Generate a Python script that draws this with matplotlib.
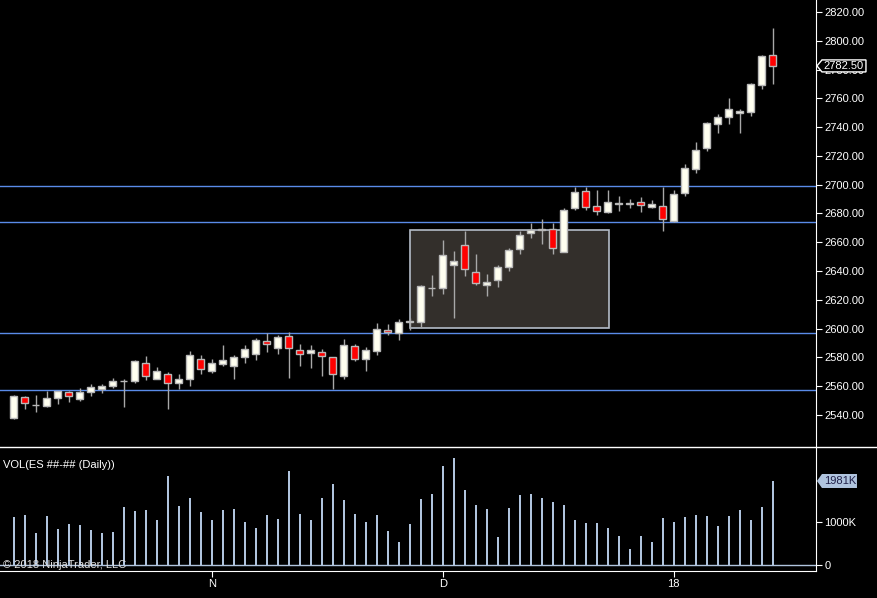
import numpy as np
import matplotlib.pyplot as plt
from matplotlib.patches import Rectangle, Polygon
from matplotlib.lines import Line2D

plt.rcParams['font.family'] = ['Liberation Sans', 'DejaVu Sans']

# daily ES bars, Oct 2017 - Jan 2018
opens = [2538.1, 2552.2, 2546.7, 2546.4, 2552.0, 2555.7, 2550.8, 2555.7, 2558.3, 2559.9,
         2563.4, 2563.8, 2575.9, 2565.2, 2568.2, 2562.4, 2564.7, 2578.6, 2570.8, 2575.6,
         2574.2, 2580.5, 2582.6, 2591.1, 2586.7, 2594.6, 2584.9, 2583.3, 2583.5, 2580.0,
         2567.3, 2587.7, 2579.1, 2584.7, 2598.8, 2596.7, 2604.6, 2604.8, 2628.2, 2628.0,
         2644.0, 2657.9, 2639.1, 2630.1, 2633.5, 2642.6, 2655.1, 2666.2, 2668.8, 2669.0,
         2653.0, 2683.5, 2695.4, 2685.0, 2681.0, 2686.6, 2686.7, 2687.7, 2684.3, 2685.0,
         2674.8, 2694.0, 2710.7, 2725.3, 2741.9, 2746.8, 2749.6, 2750.3, 2769.0, 2789.9]
highs = [2553.9, 2553.2, 2553.9, 2556.9, 2556.9, 2556.6, 2558.5, 2561.3, 2561.3, 2565.7,
         2564.7, 2578.2, 2581.0, 2573.3, 2569.6, 2568.4, 2584.4, 2581.6, 2578.9, 2588.6,
         2581.6, 2588.6, 2593.2, 2596.7, 2595.5, 2597.4, 2589.3, 2588.6, 2585.8, 2580.5,
         2592.8, 2589.1, 2587.0, 2603.7, 2603.2, 2606.5, 2607.1, 2630.3, 2637.3, 2661.6,
         2654.2, 2668.1, 2651.8, 2637.9, 2644.2, 2655.8, 2668.1, 2673.6, 2676.2, 2673.6,
         2683.6, 2698.6, 2698.6, 2696.3, 2696.3, 2692.1, 2689.8, 2691.2, 2689.4, 2698.6,
         2696.3, 2714.4, 2729.4, 2743.3, 2749.1, 2760.0, 2752.4, 2770.7, 2790.4, 2808.9]
lows = [2537.2, 2544.4, 2542.3, 2545.7, 2547.4, 2549.2, 2549.9, 2553.4, 2555.5, 2559.0,
        2545.7, 2562.4, 2564.5, 2565.2, 2544.4, 2558.3, 2560.3, 2568.7, 2569.4, 2574.2,
        2565.0, 2576.3, 2578.2, 2583.7, 2582.6, 2565.9, 2574.2, 2572.9, 2567.3, 2558.0,
        2565.2, 2577.7, 2570.8, 2581.9, 2595.3, 2592.3, 2599.0, 2600.2, 2622.9, 2624.3,
        2607.6, 2636.8, 2630.1, 2622.9, 2629.1, 2640.3, 2652.1, 2663.2, 2659.0, 2652.1,
        2653.0, 2682.6, 2682.6, 2679.2, 2680.3, 2682.0, 2683.6, 2681.3, 2683.6, 2668.1,
        2673.8, 2692.4, 2708.4, 2723.6, 2736.2, 2742.4, 2736.2, 2748.0, 2766.7, 2769.7]
closes = [2553.2, 2548.1, 2546.9, 2551.5, 2556.6, 2552.9, 2555.7, 2559.2, 2560.1, 2563.4,
          2563.6, 2577.3, 2566.8, 2570.3, 2562.0, 2564.7, 2581.4, 2571.7, 2575.9, 2577.9,
          2580.0, 2585.6, 2591.8, 2589.5, 2593.9, 2586.7, 2582.6, 2584.9, 2581.2, 2568.2,
          2588.4, 2579.1, 2584.9, 2599.5, 2597.4, 2604.3, 2605.0, 2629.4, 2628.5, 2650.9,
          2646.7, 2641.2, 2631.5, 2632.2, 2642.6, 2654.4, 2665.0, 2668.3, 2669.1, 2656.2,
          2682.2, 2694.8, 2684.3, 2681.5, 2687.7, 2686.9, 2686.9, 2685.7, 2686.6, 2675.9,
          2693.3, 2711.4, 2723.9, 2742.6, 2746.8, 2752.4, 2751.0, 2769.7, 2789.4, 2782.5]
volume_k = [1130, 1170, 740, 1146, 835, 955, 931, 812, 740, 764,
            1360, 1265, 1289, 1050, 2100, 1384, 1575, 1241, 1050, 1289,
            1313, 1002, 859, 1170, 1074, 2220, 1193, 1050, 1575, 1909,
            1528, 1193, 1002, 1170, 788, 549, 955, 1551, 1671, 2339,
            2530, 1766, 1408, 1313, 644, 1337, 1647, 1671, 1575, 1480,
            1408, 1050, 979, 979, 859, 668, 382, 668, 549, 1098,
            1002, 1122, 1170, 1146, 907, 1146, 1289, 1050, 1360, 1981]

level_lines = [2699.0, 2674.0, 2597.0, 2557.3]
box_x = (36.05, 54.1)
box_price = (2600.2, 2668.3)
month_ticks = [18, 39, 60]
month_labels = ['N', 'D', '18']
price_ticks = list(range(2540, 2821, 20))
last_price = 2782.50

idx = np.arange(len(opens))
o = np.array(opens); c = np.array(closes)
h = np.array(highs); l = np.array(lows)
up = c >= o

fig = plt.figure(figsize=(8.77, 5.98), dpi=100, facecolor='black')
ax = fig.add_axes([0, 0.2525, 0.9304, 0.7475], facecolor='black')
axv = fig.add_axes([0, 0.04515, 0.9304, 0.2074], facecolor='black', sharex=ax)

# price pane
for lv in level_lines:
    ax.axhline(lv, color='#5a8be8', lw=1, zorder=1)
ax.add_patch(Rectangle((box_x[0], box_price[0]), box_x[1] - box_x[0], box_price[1] - box_price[0],
                       facecolor='#332f2b', edgecolor='#b4bcc8', lw=1.2, zorder=2))
ax.vlines(idx, l, h, color='#a8a8a8', lw=1, zorder=3)
body_h = np.abs(c - o)
ax.bar(idx[up], body_h[up], bottom=np.minimum(o, c)[up], width=0.62,
       facecolor='#fffff0', edgecolor='#b8b8b8', lw=1, zorder=4)
ax.bar(idx[~up], body_h[~up], bottom=np.minimum(o, c)[~up], width=0.62,
       facecolor='#ff0000', edgecolor='#b8b8b8', lw=1, zorder=4)

ax.set_xlim(-1.245, 72.94)
ax.set_ylim(2517.7, 2828.3)
ax.yaxis.tick_right()
ax.set_yticks(price_ticks)
ax.set_yticklabels([f'{v:.2f}' for v in price_ticks])
ax.tick_params(axis='y', colors='white', labelsize=8, length=4, pad=2)
ax.tick_params(axis='x', bottom=False, labelbottom=False)
for s in ['top', 'left', 'bottom']:
    ax.spines[s].set_visible(False)
ax.spines['right'].set_color('white')

# last price marker
fig.canvas.draw()
px, py = ax.transAxes.transform((1, 0))[0], ax.transData.transform((0, last_price))[1]
ax.add_patch(Polygon([(px + 1, py), (px + 6, py + 6), (px + 50, py + 6), (px + 50, py - 6), (px + 6, py - 6)],
                     closed=True, transform=None, facecolor='black', edgecolor='white', lw=1,
                     clip_on=False, zorder=10))
fig.text((px + 28) / fig.bbox.width, py / fig.bbox.height, f'{last_price:.2f}', color='white',
         fontsize=8, ha='center', va='center', zorder=11)

# volume pane
axv.bar(idx, volume_k, width=0.18, color='#b0c4de', zorder=3)
axv.axhline(0, color='#b0c4de', lw=1, zorder=2)
axv.set_ylim(-149, 2786)
axv.yaxis.tick_right()
axv.set_yticks([0, 1000])
axv.set_yticklabels(['0', '1000K'])
axv.set_xticks(month_ticks)
axv.set_xticklabels(month_labels)
axv.tick_params(colors='white', labelsize=8, length=4, pad=2)
axv.spines['top'].set_visible(False)
axv.spines['left'].set_visible(False)
axv.spines['right'].set_color('white')
axv.spines['bottom'].set_color('white')

vx, vy = axv.transAxes.transform((1, 0))[0], axv.transData.transform((0, volume_k[-1]))[1]
axv.add_patch(Polygon([(vx + 1, vy), (vx + 6, vy + 7), (vx + 41, vy + 7), (vx + 41, vy - 7), (vx + 6, vy - 7)],
                      closed=True, transform=None, facecolor='#b0c4de', edgecolor='none',
                      clip_on=False, zorder=10))
fig.text((vx + 24) / fig.bbox.width, vy / fig.bbox.height, f'{volume_k[-1]}K', color='#202048',
         fontsize=8, ha='center', va='center', zorder=11)

# pane separator across full width
fig.add_artist(Line2D([0, 1], [1 - 447 / 598, 1 - 447 / 598], color='white', lw=1))

fig.text(3 / 877, 1 - 465 / 598, 'VOL(ES ##-## (Daily))', color='white', fontsize=8, va='center')
fig.text(3 / 877, 1 - 565 / 598, '\u00a9 2018 NinjaTrader, LLC', color='#e0e0e0', fontsize=8,
         va='center', zorder=12)

fig.savefig('out.png', dpi=100, facecolor='black')
